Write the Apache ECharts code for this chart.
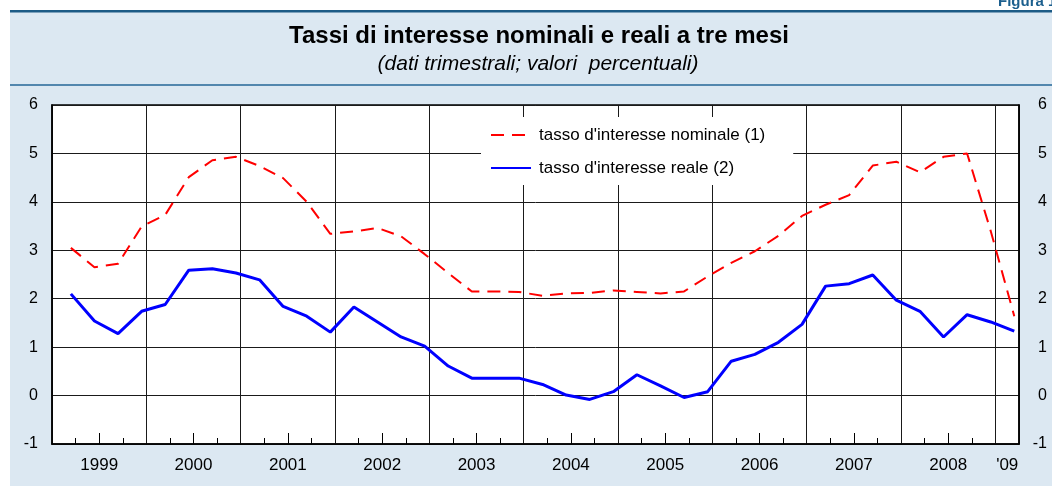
<!DOCTYPE html>
<html>
<head>
<meta charset="utf-8">
<script src="https://cdn.jsdelivr.net/npm/echarts@6/dist/echarts.min.js"></script>
<style>
  html, body { margin: 0; padding: 0; background: #fff; }
  #chart { width: 1052px; height: 486px; }
</style>
</head>
<body>
<div id="chart"></div>
<script>
// etichette degli anni sull'asse x ('09 = solo primo trimestre)
var yearLabels = ['1999', '2000', '2001', '2002', '2003', '2004', '2005', '2006', '2007', '2008', "'09"];
var yTicks = [-1, 0, 1, 2, 3, 4, 5, 6];

// dati trimestrali, 1999 T1 - 2009 T1
var nominale = [3.05, 2.65, 2.72, 3.49, 3.73, 4.51, 4.86, 4.93, 4.74, 4.49,
                4.00, 3.34, 3.39, 3.46, 3.29, 2.92, 2.53, 2.15, 2.15, 2.14,
                2.06, 2.11, 2.12, 2.17, 2.14, 2.11, 2.15, 2.46, 2.74, 2.98,
                3.30, 3.71, 3.94, 4.14, 4.75, 4.83, 4.61, 4.93, 5.00, 3.40, 1.64];
var reale = [2.10, 1.54, 1.28, 1.74, 1.88, 2.59, 2.62, 2.53, 2.39, 1.84,
             1.64, 1.31, 1.83, 1.52, 1.21, 1.02, 0.61, 0.36, 0.36, 0.36,
             0.23, 0.01, -0.08, 0.08, 0.43, 0.20, -0.04, 0.08, 0.71, 0.85,
             1.10, 1.47, 2.26, 2.31, 2.49, 1.97, 1.74, 1.21, 1.67, 1.52, 1.33];

var firstYear = 1999;
var xMax = 2009.25;

// posizione del trimestre sull'asse (anno decimale)
function qx(i) { return firstYear + 0.2 + i * 0.25; }
function toPairs(arr) { return arr.map(function (v, i) { return [qx(i), v]; }); }

var quarterTicks = [], midTicks = [], labelPos = [];
for (var y = firstYear; y < 2009; y++) {
  quarterTicks.push(y + 0.25, y + 0.75);
  midTicks.push(y + 0.5);
  labelPos.push(y + 0.5);
}
labelPos.push(2009.125);

var font = 'Arial, "Liberation Sans", Helvetica, sans-serif';

var chart = echarts.init(document.getElementById('chart'));
chart.setOption({
  backgroundColor: '#fff',
  animation: false,
  graphic: [
    { type: 'rect', z: -10, shape: { x: 10, y: 10, width: 1042, height: 476 }, style: { fill: '#dce8f2' } },
    { type: 'rect', z: -9, shape: { x: 10, y: 10, width: 1042, height: 2.5 }, style: { fill: '#1c5b86' } },
    { type: 'rect', z: -9, shape: { x: 10, y: 84, width: 1042, height: 2 }, style: { fill: '#5287ae' } },
    { type: 'text', z: 5, style: { x: 998, y: -6, text: 'Figura 1', font: 'bold 15px ' + font, fill: '#1c5f8e' } },
    // titolo e sottotitolo
    { type: 'text', z: 5, style: { x: 539, y: 24, text: 'Tassi di interesse nominali e reali a tre mesi',
        textAlign: 'center', font: 'bold 24px ' + font, fill: '#000' } },
    { type: 'text', z: 5, style: { x: 538, y: 54, text: '(dati trimestrali; valori  percentuali)',
        textAlign: 'center', font: 'italic 21px ' + font, fill: '#000' } }
  ],
  legend: {
    left: 481,
    top: 117,
    orient: 'vertical',
    backgroundColor: '#fff',
    padding: [8, 28, 7, 9],
    itemGap: 13,
    itemWidth: 40,
    itemHeight: 14,
    itemStyle: { opacity: 0 },
    textStyle: { fontFamily: font, fontSize: 17, color: '#000', lineHeight: 20, padding: [0, 0, 0, 3] },
    data: ["tasso d'interesse nominale (1)", "tasso d'interesse reale (2)"]
  },
  grid: {
    left: 52, right: 33, top: 105, bottom: 42,
    show: true,
    backgroundColor: '#fff',
    borderColor: '#000',
    borderWidth: 1.5
  },
  xAxis: [
    {
      type: 'value', min: firstYear, max: xMax, interval: 1, position: 'bottom',
      axisLine: { show: true, onZero: false, lineStyle: { color: '#000', width: 1.5 } },
      axisTick: { show: false },
      axisLabel: { show: false },
      splitLine: { show: true, lineStyle: { color: '#1a1a1a', width: 1 } }
    },
    {
      type: 'value', min: firstYear, max: xMax, position: 'bottom',
      axisLine: { show: false, onZero: false },
      axisTick: { show: true, inside: true, length: 6, customValues: quarterTicks, lineStyle: { color: '#000', width: 1 } },
      axisLabel: { show: false },
      splitLine: { show: false }
    },
    {
      type: 'value', min: firstYear, max: xMax, position: 'bottom',
      axisLine: { show: false, onZero: false },
      axisTick: { show: true, inside: true, length: 11, customValues: midTicks, lineStyle: { color: '#000', width: 1 } },
      axisLabel: {
        show: true, customValues: labelPos, margin: 13,
        fontFamily: font, fontSize: 17, color: '#000',
        formatter: function (v) { return yearLabels[Math.floor(v + 1e-6) - firstYear]; }
      },
      splitLine: { show: false }
    }
  ],
  yAxis: [
    {
      type: 'value', min: yTicks[0], max: yTicks[yTicks.length - 1], interval: 1, position: 'left',
      axisLine: { show: true, onZero: false, lineStyle: { color: '#000', width: 1.5 } },
      axisTick: { show: false },
      axisLabel: { margin: 14, fontFamily: font, fontSize: 16, color: '#000' },
      splitLine: { show: true, lineStyle: { color: '#1a1a1a', width: 1 } }
    },
    {
      type: 'value', min: yTicks[0], max: yTicks[yTicks.length - 1], interval: 1, position: 'right',
      axisLine: { show: true, onZero: false, lineStyle: { color: '#000', width: 1.5 } },
      axisTick: { show: false },
      axisLabel: { margin: 28, align: 'right', fontFamily: font, fontSize: 16, color: '#000' },
      splitLine: { show: false }
    }
  ],
  series: [
    {
      name: "tasso d'interesse nominale (1)",
      type: 'line',
      xAxisIndex: 0, yAxisIndex: 0,
      symbol: 'none',
      lineStyle: { color: '#ff0000', width: 2, type: [13, 8] },
      itemStyle: { color: '#ff0000' },
      data: toPairs(nominale)
    },
    {
      name: "tasso d'interesse reale (2)",
      type: 'line',
      xAxisIndex: 0, yAxisIndex: 0,
      symbol: 'none',
      lineStyle: { color: '#0000ff', width: 3 },
      itemStyle: { color: '#0000ff' },
      data: toPairs(reale)
    }
  ]
});
</script>
</body>
</html>
